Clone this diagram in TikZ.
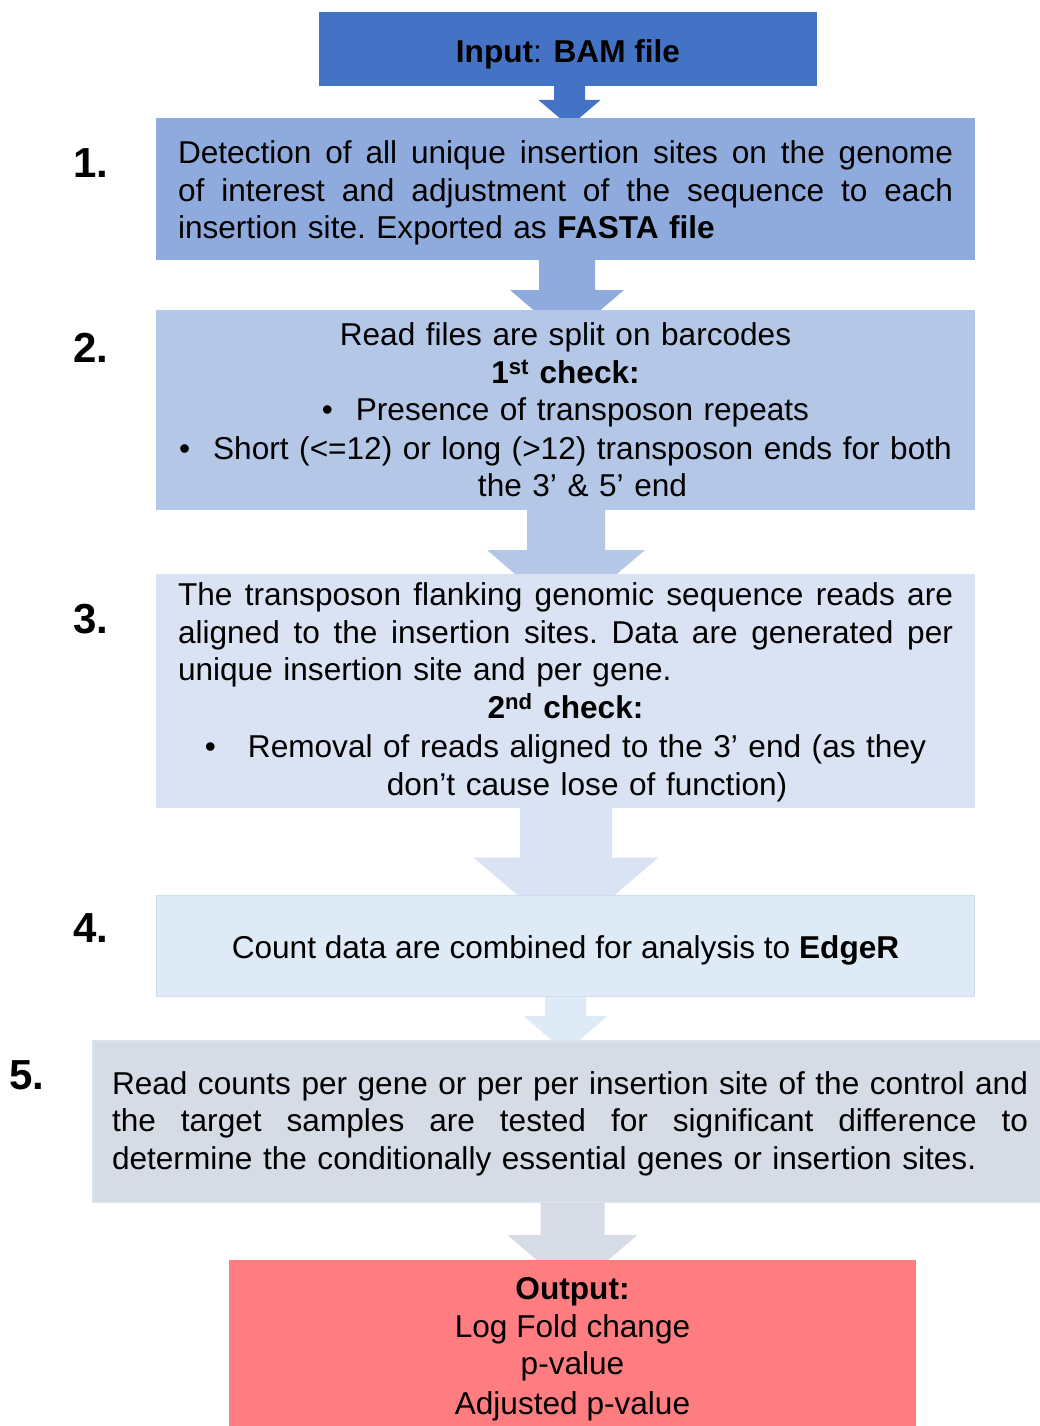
\documentclass[tikz,border=0pt]{standalone}
\usepackage{fontspec}
\setmainfont{Liberation Sans}
\usetikzlibrary{calc}
\pgfdeclarelayer{bg}
\pgfsetlayers{bg,main}

\definecolor{inputblue}{HTML}{4472C4}
\definecolor{stepone}{HTML}{8FAADC}
\definecolor{steptwo}{HTML}{B4C7E7}
\definecolor{stepthree}{HTML}{DAE3F3}
\definecolor{stepfour}{HTML}{DEEBF7}
\definecolor{stepfourline}{HTML}{D0DDF0}
\definecolor{stepfive}{HTML}{D6DCE5}
\definecolor{stepfiveline}{HTML}{DCE3EE}
\definecolor{outputred}{HTML}{FF7C80}

% a line of text spread to a given width (justified line)
\newcommand\jline[2]{\leavevmode{\frenchspacing\spaceskip=\fontdimen2\font plus 1fil\relax
  \hbox to #1{#2}}}
% a line of text set flush left in a given width
\newcommand\lline[2]{\leavevmode{\frenchspacing\hbox to #1{#2\hfil}}}
% invisible strut that sets the height of a first line
\newcommand\toprule[1]{\rule{0pt}{#1}}

% block arrow: colour, source node, target node, shaft half width,
% head half width, visible head length, horizontal shift
\newcommand\flowarrow[7]{%
  \path let \p1=(#2.south), \p2=(#3.north) in
    [fill=#1]
    (\x2+#7pt-#4pt,\y1) -- (\x2+#7pt+#4pt,\y1)
    -- (\x2+#7pt+#4pt,\y2+#6pt) -- (\x2+#7pt+#5pt,\y2+#6pt)
    -- (\x2+#7pt,\y2+#6pt-#5pt/1.17)
    -- (\x2+#7pt-#5pt,\y2+#6pt) -- (\x2+#7pt-#4pt,\y2+#6pt) -- cycle;}

\begin{document}
\begin{tikzpicture}[x=1pt,y=-1pt,
  box/.style={rectangle, anchor=north west, inner sep=0pt, outer sep=0pt,
    align=center, font=\fontsize{31.6}{37.4}\selectfont},
  stepnum/.style={anchor=base west, inner sep=0pt,
    font=\fontsize{42}{48}\selectfont\bfseries}]

\useasboundingbox (0,0) rectangle (1040,1426);
\clip (0,0) rectangle (1040,1426);

% boxes
\node[box, fill=inputblue, minimum width=498pt, minimum height=74pt] (inp) at (319,12)
  {\toprule{33pt}\textbf{Input}: \textbf{BAM file}};

\node[box, fill=stepone, minimum width=819pt, minimum height=142pt, text width=775pt] (b1) at (156,118)
  {\toprule{31pt}\jline{775pt}{Detection of all unique insertion sites on the genome}\\
   \jline{775pt}{of interest and adjustment of the sequence to each}\\
   \lline{775pt}{insertion site. Exported as \textbf{FASTA file}}};

\node[box, fill=steptwo, minimum width=819pt, minimum height=200pt, text width=800pt] (b2) at (156,310)
  {Read files are split on barcodes\\
   \textbf{1\textsuperscript{st} check:}\\
   \makebox[34pt][l]{\textbullet}Presence of transposon repeats\\[1.5pt]
   \makebox[34pt][l]{\textbullet}Short (<=12) or long (>12) transposon ends for both\\
   \hspace*{34pt}the 3’ \& 5’ end};

\node[box, fill=stepthree, minimum width=819pt, minimum height=234pt, text width=775pt] (b3) at (156,574)
  {\toprule{26pt}\jline{775pt}{The transposon flanking genomic sequence reads are}\\
   \jline{775pt}{aligned to the insertion sites. Data are generated per}\\
   \lline{775pt}{unique insertion site and per gene.}\\[1pt]
   \textbf{2\textsuperscript{nd} check:}\\[1pt]
   \makebox[43pt][l]{\textbullet}Removal of reads aligned to the 3’ end (as they\\[1pt]
   \hspace*{43pt}don’t cause lose of function)};

\node[box, fill=stepfour, draw=stepfourline, line width=1.5pt, minimum width=818pt, minimum height=101pt] (b4) at (156.5,895.5)
  {\toprule{31pt}Count data are combined for analysis to \textbf{EdgeR}};

\node[box, fill=stepfive, draw=stepfiveline, line width=1.2pt, minimum width=954pt, minimum height=161pt, text width=916pt] (b5) at (93,1041)
  {\toprule{27pt}\jline{916pt}{Read counts per gene or per per insertion site of the control and}\\
   \jline{916pt}{the target samples are tested for significant difference to}\\
   \lline{916pt}{determine the conditionally essential genes or insertion sites.}};

\node[box, fill=outputred, minimum width=687pt, minimum height=172pt] (out) at (229,1260)
  {\toprule{29pt}\textbf{Output:}\\ Log Fold change\\ p-value\\[3pt] Adjusted p-value};

% step numbers
\node[stepnum] (n1) at (73,177.5) {1.};
\node[stepnum] (n2) at (73,362.5) {2.};
\node[stepnum] (n3) at (73,633.5) {3.};
\node[stepnum] (n4) at (73,942.5) {4.};
\node[stepnum] (n5) at (9,1089.5) {5.};

% block arrows behind the boxes
\begin{pgfonlayer}{bg}
  \flowarrow{inputblue}{inp}{b1}{15.5}{31}{18}{4}
  \flowarrow{stepone}{b1}{b2}{28}{57}{20}{1.5}
  \flowarrow{steptwo}{b2}{b3}{39}{79}{24}{0.5}
  \flowarrow{stepthree}{b3}{b4}{46}{92.5}{38}{0.5}
  \flowarrow{stepfour}{b4}{b5}{20.5}{42}{25}{-4.5}
  \flowarrow{stepfive}{b5}{out}{32}{65}{25}{0}
\end{pgfonlayer}
\end{tikzpicture}
\end{document}
